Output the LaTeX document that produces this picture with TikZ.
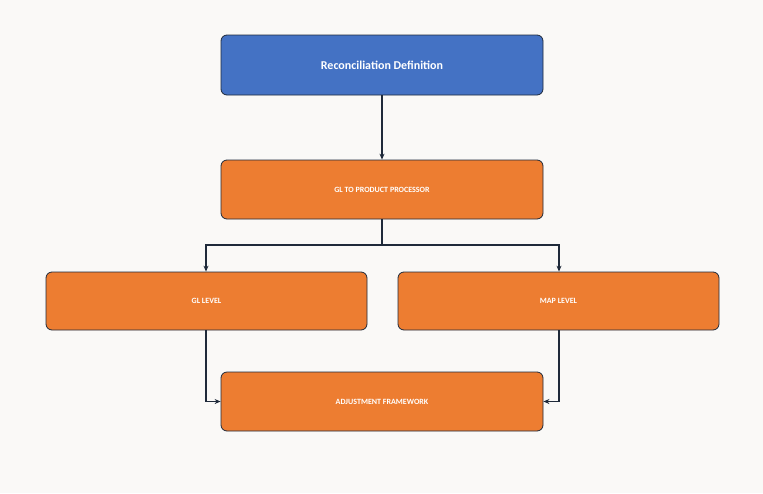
\documentclass[tikz,border=0pt]{standalone}
\usepackage{fontspec}
\setmainfont{Carlito}
\usetikzlibrary{arrows.meta}
\definecolor{bg}{HTML}{FAF9F7}
\definecolor{blu}{HTML}{4472C4}
\definecolor{org}{HTML}{ED7D31}
\definecolor{edge}{HTML}{1F2A3A}
\begin{document}
\begin{tikzpicture}[x=1pt,y=-1pt,
  box/.style={draw=edge,line width=0.8pt,rounded corners=6pt,minimum width=322pt,minimum height=59pt,text=white,font=\bfseries\footnotesize},
  conn/.style={draw=edge,line width=1.5pt,-{Stealth[length=6pt,width=5pt]}}]
\fill[bg] (0,0) rectangle (763,493);
\useasboundingbox (0,0) rectangle (763,493);
\node[box,fill=blu,font=\bfseries\large,minimum height=60pt] (rd) at (382,65) {Reconciliation Definition};
\node[box,fill=org] (gp) at (382,189.5) {GL TO PRODUCT PROCESSOR};
\node[box,fill=org,minimum width=321pt,minimum height=58pt] (gl) at (206.5,301) {GL LEVEL};
\node[box,fill=org,minimum width=321pt,minimum height=58pt] (ml) at (558.5,301) {MAP LEVEL};
\node[box,fill=org] (af) at (382,401.5) {ADJUSTMENT FRAMEWORK};
\coordinate (j) at (382,245);
\draw[conn] (rd) -- (gp);
\draw[draw=edge,line width=1.5pt] (gp.south) -- (j);
\draw[conn] (j) -| (gl.north -| 206,0);
\draw[conn] (j) -| (ml.north -| 559,0);
\draw[conn] (gl.south -| 206,0) |- (af.west);
\draw[conn] (ml.south -| 559,0) |- (af.east);
\end{tikzpicture}
\end{document}
